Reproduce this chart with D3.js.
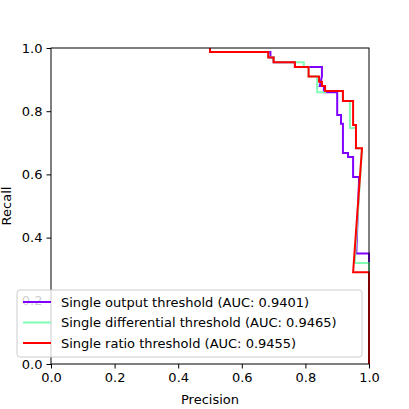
<!DOCTYPE html>
<html><head><meta charset="utf-8">
<script src="https://cdn.jsdelivr.net/npm/d3@7"></script>
<style>body{margin:0;background:#fff}text{font-family:"DejaVu Sans",sans-serif}</style>
</head><body><svg width="409" height="409"></svg>
<script>
// precision / recall points for each threshold curve
const outputPrec = [0.5,0.5,0.69,0.69,0.70,0.70,0.767,0.767,0.852,0.852,0.845,0.858,0.858,0.9,0.9,0.912,0.912,0.918,0.918,0.934,0.934,0.95,0.95,0.969,0.96,1.0,1.0];
const outputRec  = [1.0,0.987,0.987,0.97,0.97,0.955,0.955,0.94,0.94,0.91,0.88,0.88,0.86,0.86,0.788,0.788,0.76,0.76,0.668,0.668,0.655,0.655,0.592,0.592,0.35,0.35,0.0];
const diffPrec = [0.5,0.5,0.683,0.683,0.70,0.70,0.795,0.795,0.81,0.81,0.837,0.837,0.862,0.862,0.918,0.918,0.94,0.94,0.959,0.959,0.978,0.955,1.0,1.0];
const diffRec  = [1.0,0.987,0.987,0.97,0.97,0.955,0.955,0.94,0.94,0.91,0.91,0.86,0.86,0.864,0.864,0.832,0.832,0.747,0.747,0.683,0.683,0.32,0.32,0.0];
const ratioPrec = [0.5,0.5,0.683,0.683,0.70,0.70,0.767,0.767,0.81,0.81,0.843,0.843,0.852,0.852,0.862,0.862,0.918,0.918,0.95,0.95,0.959,0.959,0.978,0.95,1.0,1.0];
const ratioRec  = [1.0,0.987,0.987,0.97,0.97,0.955,0.955,0.94,0.94,0.91,0.91,0.893,0.893,0.88,0.88,0.864,0.864,0.832,0.832,0.756,0.756,0.683,0.683,0.29,0.29,0.0];
const series = [
  {name:"Single output threshold (AUC: 0.9401)", color:"#8000ff", p:outputPrec, r:outputRec},
  {name:"Single differential threshold (AUC: 0.9465)", color:"#80ffb4", p:diffPrec, r:diffRec},
  {name:"Single ratio threshold (AUC: 0.9455)", color:"#ff0000", p:ratioPrec, r:ratioRec}
];
const ticks = [0,0.2,0.4,0.6,0.8,1.0];

const svg = d3.select("svg");
const x = d3.scaleLinear().domain([0,1]).range([51,369]);
const y = d3.scaleLinear().domain([0,1]).range([364,48]);

const xa = svg.append("g").attr("transform","translate(0,364)")
  .call(d3.axisBottom(x).tickValues(ticks).tickFormat(d3.format(".1f")).tickSizeOuter(0).tickSize(4.5).tickPadding(4));
const ya = svg.append("g").attr("transform","translate(51,0)")
  .call(d3.axisLeft(y).tickValues(ticks).tickFormat(d3.format(".1f")).tickSizeOuter(0).tickSize(4.5).tickPadding(4));
[xa,ya].forEach(a=>{a.selectAll("text").attr("font-size",13).attr("fill","#000");a.select(".domain").remove();});

const line = d3.line().x(d=>x(d[0])).y(d=>y(d[1]));
series.forEach(s=>{
  svg.append("path").datum(s.p.map((v,i)=>[v,s.r[i]])).attr("d",line)
    .attr("fill","none").attr("stroke",s.color).attr("stroke-width",2);
});
svg.append("rect").attr("x",51).attr("y",48).attr("width",318).attr("height",316)
  .attr("fill","none").attr("stroke","#000").attr("stroke-width",1);

svg.append("text").attr("x",210).attr("y",404).attr("text-anchor","middle").attr("font-size",13).text("Precision");
svg.append("text").attr("transform","translate(11,206) rotate(-90)").attr("text-anchor","middle").attr("font-size",13).text("Recall");

const lg = svg.append("g");
lg.append("rect").attr("x",17).attr("y",290).attr("width",345).attr("height",67).attr("rx",3)
  .attr("fill","#fff").attr("fill-opacity",0.8).attr("stroke","#ccc");
series.forEach((s,i)=>{
  const yy = 302+i*20.5;
  lg.append("line").attr("x1",23).attr("x2",51).attr("y1",yy).attr("y2",yy).attr("stroke",s.color).attr("stroke-width",2);
  lg.append("text").attr("x",61).attr("y",yy+4.5).attr("font-size",13).text(s.name);
});
</script></body></html>
